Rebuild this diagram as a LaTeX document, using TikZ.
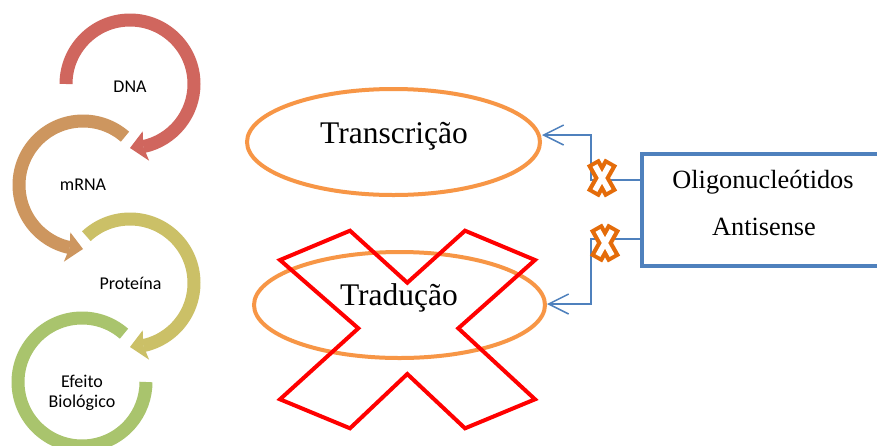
\documentclass[tikz,border=0pt]{standalone}
\usepackage{fontspec}
\setmainfont{Liberation Serif}
\newfontfamily\calibrifont{Carlito}
\usetikzlibrary{shapes.geometric,arrows.meta}
\definecolor{dnared}{HTML}{D0665E}
\definecolor{mrnatan}{HTML}{CD965F}
\definecolor{protolive}{HTML}{CBC067}
\definecolor{efgreen}{HTML}{A9C46D}
\definecolor{ellorange}{HTML}{F79646}
\definecolor{xorange}{HTML}{E46C0A}
\definecolor{linkblue}{HTML}{4F81BD}
\begin{document}
\begin{tikzpicture}[x=1pt,y=-1pt,
  ring/.style={line width=13pt},
  elli/.style={ellipse, draw=ellorange, line width=4pt, minimum width=293pt, minimum height=106pt, inner sep=0pt},
  bigtext/.style={font=\fontsize{31.5}{34}\selectfont, anchor=base, inner sep=0pt},
  boxtext/.style={font=\fontsize{26.3}{30}\selectfont, anchor=base, inner sep=0pt},
  ringtext/.style={font=\calibrifont\fontsize{18}{20}\selectfont, anchor=base, inner sep=0pt, align=center},
  conn/.style={draw=linkblue, line width=1.5pt, -{Straight Barb[length=20pt,width=20pt,line width=1.5pt]}},
  xout/.style={draw=xorange, line width=14pt, line join=round},
  xin/.style={draw=white, line width=5.5pt, shorten <=4pt, shorten >=4pt}
]
\useasboundingbox (0,0) rectangle (877,445);
\fill[white] (0,0) rectangle (877,445);
\clip (0,0) rectangle (877,445);

% circular arrows
\draw[ring, dnared] (130,84) ++(180:64) arc[start angle=180, end angle=438, radius=64];
\fill[dnared] ([shift={(435:49)}]130,84) -- ([shift={(450:64)}]130,84) -- ([shift={(436:79)}]130,84) -- ([shift={(438:64)}]130,84) -- cycle;
\node[ringtext] (dna) at (130,92) {DNA};

\draw[ring, mrnatan] (83,185) ++(311:64) arc[start angle=311, end angle=102, radius=64];
\fill[mrnatan] ([shift={(105:49)}]83,185) -- ([shift={(90:64)}]83,185) -- ([shift={(104:79)}]83,185) -- ([shift={(102:64)}]83,185) -- cycle;
\node[ringtext] (mrna) at (83,190) {mRNA};

\draw[ring, protolive] (130,283) ++(227:64) arc[start angle=227, end angle=438, radius=64];
\fill[protolive] ([shift={(435:49)}]130,283) -- ([shift={(450:64)}]130,283) -- ([shift={(436:79)}]130,283) -- ([shift={(438:64)}]130,283) -- cycle;
\node[ringtext] (prot) at (130.5,289) {Proteína};

\draw[ring, efgreen] (82,382) ++(311:64) arc[start angle=311, end angle=0, radius=64];
\node[ringtext] (ef1) at (82,387) {Efeito};
\node[ringtext] (ef2) at (82,407) {Biológico};

% ellipses
\node[elli] (tr) at (393.5,142) {};
\node[bigtext] (trt) at (394,143) {Transcrição};
\node[elli, minimum width=291pt] (td) at (399.5,305) {};
\node[bigtext] (tdt) at (399,305) {Tradução};

% red cross
\draw[red, line width=4pt, line join=miter]
  (280,260) -- (350,230.7) -- (407.3,282.7) -- (465,230.7) -- (535,260) -- (458.3,328.3)
  -- (535,399.3) -- (465,428.3) -- (407.3,374) -- (350,428.3) -- (280,399.3) -- (358.3,328.3) -- cycle;

% box
\node[draw=linkblue, line width=4pt, minimum width=258.5pt, minimum height=112pt, inner sep=0pt] (box) at (770.75,210) {};
\node[boxtext] (ol) at (763,188) {Oligonucleótidos};
\node[boxtext] (an) at (764,235) {Antisense};

% connectors
\draw[conn] ([yshift=30pt]box.west) -- ++(-48.5,0) |- ([yshift=7pt]tr.east);
\draw[conn] ([yshift=-29pt]box.west) -- ++(-48.5,0) |- ([yshift=1pt]td.east);

% orange X marks
\coordinate (xa) at (602,178);
\coordinate (xb) at (605,243);
\foreach \c in {xa,xb}{
  \draw[xout] ([shift={(-9,-16)}]\c) -- ([shift={(9,16)}]\c);
  \draw[xout] ([shift={(9,-16)}]\c) -- ([shift={(-9,16)}]\c);
  \draw[xin] ([shift={(-9,-16)}]\c) -- ([shift={(9,16)}]\c);
  \draw[xin] ([shift={(9,-16)}]\c) -- ([shift={(-9,16)}]\c);
}
\end{tikzpicture}
\end{document}
